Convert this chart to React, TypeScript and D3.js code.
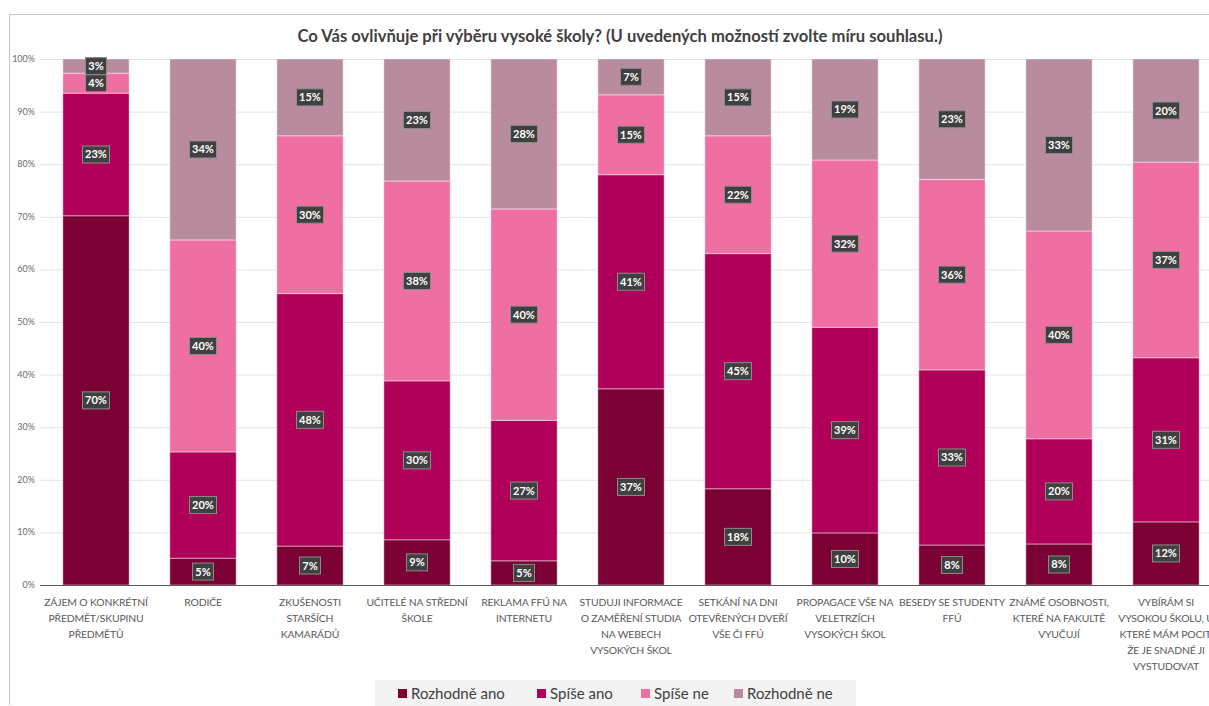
import { useEffect, useRef } from "react";
import * as d3 from "d3";

const categories = [
  "ZÁJEM O KONKRÉTNÍ\nPŘEDMĚT/SKUPINU\nPŘEDMĚTŮ",
  "RODIČE",
  "ZKUŠENOSTI\nSTARŠÍCH\nKAMARÁDŮ",
  "UČITELÉ NA STŘEDNÍ\nŠKOLE",
  "REKLAMA FFÚ NA\nINTERNETU",
  "STUDUJI INFORMACE\nO ZAMĚŘENÍ STUDIA\nNA WEBECH\nVYSOKÝCH ŠKOL",
  "SETKÁNÍ NA DNI\nOTEVŘENÝCH DVEŘÍ\nVŠE ČI FFÚ",
  "PROPAGACE VŠE NA\nVELETRZÍCH\nVYSOKÝCH ŠKOL",
  "BESEDY SE STUDENTY\nFFÚ",
  "ZNÁMÉ OSOBNOSTI,\nKTERÉ NA FAKULTĚ\nVYUČUJÍ",
  "VYBÍRÁM SI\nVYSOKOU ŠKOLU, U\nKTERÉ MÁM POCIT,\nŽE JE SNADNÉ JI\nVYSTUDOVAT",
];

const seriesNames = ["Rozhodně ano", "Spíše ano", "Spíše ne", "Rozhodně ne"];
const seriesColors = ["#7b0034", "#b0005a", "#ef6fa2", "#b98b9f"];

const rozhodneAno = [70.2, 5.1, 7.4, 8.6, 4.6, 37.3, 18.3, 9.9, 7.6, 7.8, 12.0];
const spiseAno = [23.3, 20.2, 48.0, 30.2, 26.7, 40.7, 44.7, 39.1, 33.3, 20.0, 31.2];
const spiseNe = [3.8, 40.3, 30.0, 38.0, 40.2, 15.2, 22.4, 31.8, 36.2, 39.5, 37.2];
const rozhodneNe = [2.7, 34.4, 14.6, 23.2, 28.5, 6.8, 14.6, 19.2, 22.9, 32.7, 19.6];

const yTicks = [0, 0.1, 0.2, 0.3, 0.4, 0.5, 0.6, 0.7, 0.8, 0.9, 1];

const title =
  "Co Vás ovlivňuje při výběru vysoké školy? (U uvedených možností zvolte míru souhlasu.)";

const W = 1209;
const H = 706;

export default function App() {
  const ref = useRef<SVGSVGElement | null>(null);

  useEffect(() => {
    if (!ref.current) return;
    const svg = d3.select(ref.current);
    svg.selectAll("*").remove();

    const font = "Lato, 'Open Sans', sans-serif";
    const plot = { left: 42.5, right: 1219.5, top: 59, bottom: 585 };

    // frame
    svg
      .append("path")
      .attr("d", `M${W},14.5 H9.5 V${H - 1}`)
      .attr("fill", "none")
      .attr("stroke", "#c8c8c8")
      .attr("stroke-width", 1);

    svg
      .append("text")
      .attr("x", 620)
      .attr("y", 42)
      .attr("text-anchor", "middle")
      .attr("font-family", font)
      .attr("font-size", 16.6)
      .attr("font-weight", 700)
      .attr("fill", "#404040")
      .text(title);

    const rows = categories.map((c, i) => ({
      cat: c,
      [seriesNames[0]]: rozhodneAno[i],
      [seriesNames[1]]: spiseAno[i],
      [seriesNames[2]]: spiseNe[i],
      [seriesNames[3]]: rozhodneNe[i],
    }));

    const stacked = d3
      .stack<any>()
      .keys(seriesNames)
      .offset(d3.stackOffsetExpand)(rows);

    const x = d3
      .scaleBand<string>()
      .domain(categories)
      .range([plot.left, plot.right])
      .paddingInner(0.38)
      .paddingOuter(0.19);

    const y = d3.scaleLinear().domain([0, 1]).range([plot.bottom, plot.top]);

    // grid
    svg
      .append("g")
      .selectAll("line")
      .data(yTicks.filter((t) => t > 0))
      .join("line")
      .attr("x1", 40)
      .attr("x2", W)
      .attr("y1", (d) => y(d) + 0.5)
      .attr("y2", (d) => y(d) + 0.5)
      .attr("stroke", "#e3e3e3")
      .attr("stroke-width", 1);

    svg
      .append("g")
      .selectAll("text")
      .data(yTicks)
      .join("text")
      .attr("x", 35)
      .attr("y", (d) => y(d) + 3)
      .attr("text-anchor", "end")
      .attr("font-family", font)
      .attr("font-size", 9)
      .attr("fill", "#6b6b6b")
      .text((d) => d3.format(".0%")(d));

    // bars
    const layers = svg
      .append("g")
      .selectAll("g")
      .data(stacked)
      .join("g")
      .attr("fill", (_, i) => seriesColors[i]);

    layers
      .selectAll("rect")
      .data((d) => d.map((s) => ({ s, cat: s.data.cat as string })))
      .join("rect")
      .attr("x", (d) => x(d.cat)!)
      .attr("width", x.bandwidth())
      .attr("y", (d) => y(d.s[1]))
      .attr("height", (d) => y(d.s[0]) - y(d.s[1]))
      .attr("stroke", "rgba(255,255,255,0.45)")
      .attr("stroke-width", 1);

    // axis line
    svg
      .append("line")
      .attr("x1", 40)
      .attr("x2", W)
      .attr("y1", plot.bottom + 0.5)
      .attr("y2", plot.bottom + 0.5)
      .attr("stroke", "#595959")
      .attr("stroke-width", 1.2);

    // data labels
    const labels = svg.append("g");
    stacked.forEach((layer) => {
      layer.forEach((s) => {
        const v = (s[1] - s[0]) * 100;
        const cx = x(s.data.cat as string)! + x.bandwidth() / 2;
        const cy = (y(s[0]) + y(s[1])) / 2;
        const txt = `${Math.round(v)}%`;
        const bw = txt.length > 2 ? 27 : 21;
        const g = labels.append("g").attr("transform", `translate(${cx},${cy})`);
        g.append("rect")
          .attr("x", -bw / 2)
          .attr("y", -8.5)
          .attr("width", bw)
          .attr("height", 17)
          .attr("fill", "#404040")
          .attr("stroke", "#8c8c8c")
          .attr("stroke-width", 1);
        g.append("text")
          .attr("y", 4)
          .attr("text-anchor", "middle")
          .attr("font-family", font)
          .attr("font-size", 11)
          .attr("font-weight", 700)
          .attr("fill", "#ffffff")
          .text(txt);
      });
    });

    // category labels
    const catG = svg
      .append("g")
      .selectAll("text")
      .data(categories)
      .join("text")
      .attr("x", (d) => x(d)! + x.bandwidth() / 2)
      .attr("y", 606)
      .attr("text-anchor", "middle")
      .attr("font-family", font)
      .attr("font-size", 10.4)
      .attr("letter-spacing", -0.15)
      .attr("fill", "#595959");
    catG
      .selectAll("tspan")
      .data((d) => d.split("\n"))
      .join("tspan")
      .attr("x", function () {
        return (this.parentNode as SVGTextElement).getAttribute("x");
      })
      .attr("dy", (_, i) => (i === 0 ? 0 : 16))
      .text((d) => d);

    // legend
    svg
      .append("rect")
      .attr("x", 375)
      .attr("y", 680)
      .attr("width", 481)
      .attr("height", 30)
      .attr("fill", "#f3f3f3");

    const legendX = [398, 537, 641, 734];
    const lg = svg
      .append("g")
      .selectAll("g")
      .data(seriesNames)
      .join("g")
      .attr("transform", (_, i) => `translate(${legendX[i]},694)`);
    lg.append("rect")
      .attr("x", 0)
      .attr("y", -5)
      .attr("width", 9)
      .attr("height", 9)
      .attr("fill", (_, i) => seriesColors[i]);
    lg.append("text")
      .attr("x", 13)
      .attr("y", 5)
      .attr("font-family", font)
      .attr("font-size", 15)
      .attr("fill", "#404040")
      .text((d) => d);
  }, []);

  return (
    <svg
      ref={ref}
      width={W}
      height={H}
      style={{ position: "absolute", left: 0, top: 0, background: "#fff" }}
    />
  );
}
